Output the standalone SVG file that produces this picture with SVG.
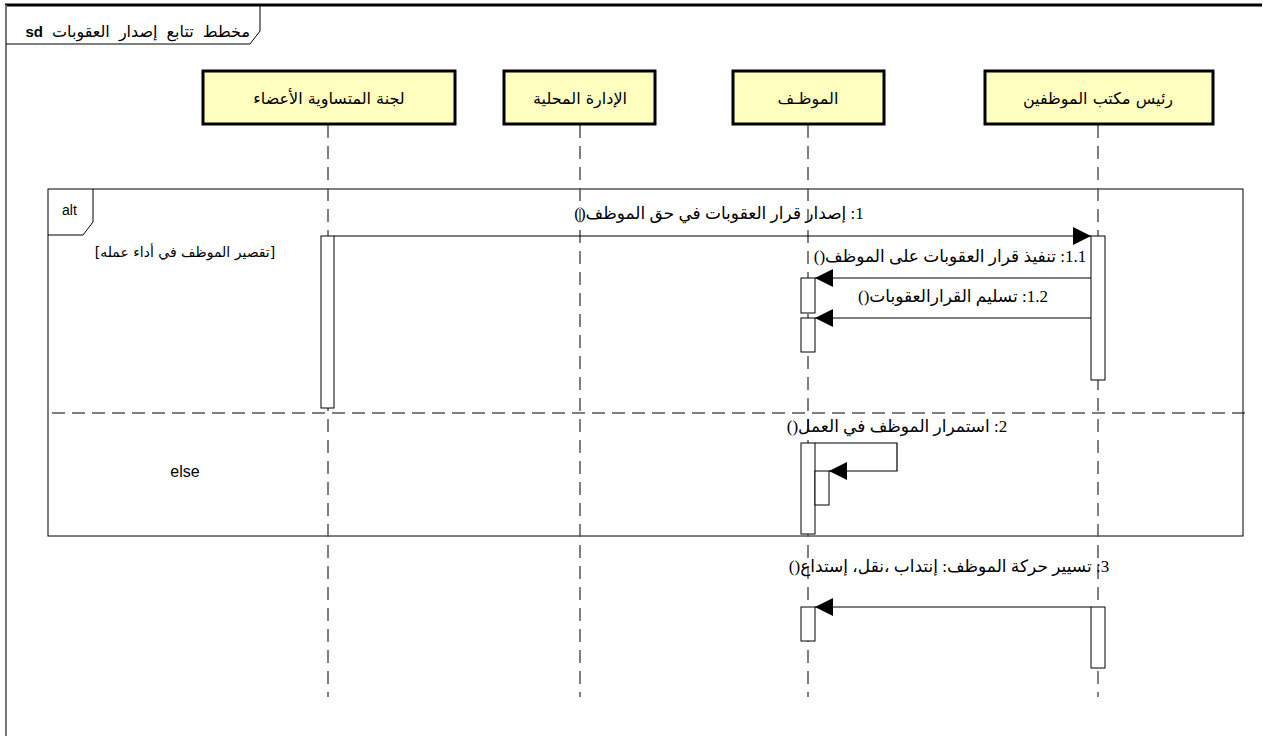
<svg xmlns="http://www.w3.org/2000/svg" width="1263" height="736" viewBox="0 0 1263 736">
<style>
.head{fill:#ffffc0;stroke:#000;stroke-width:3}
.hl{font-family:"DejaVu Sans","Noto Sans",sans-serif;font-size:16px;fill:#000;text-anchor:middle}
.life{stroke:#555;stroke-width:1.5;stroke-dasharray:13 8;fill:none}
.act{fill:#fff;stroke:#000;stroke-width:1}
.msg{stroke:#000;stroke-width:1.2;fill:none}
.ml{font-family:"Liberation Serif","DejaVu Sans",serif;font-size:17px;fill:#000;text-anchor:middle}
.frame{fill:none;stroke:#000;stroke-width:1}
</style>
<defs>
<marker id="ah" markerUnits="userSpaceOnUse" markerWidth="20" markerHeight="18" refX="18" refY="9" orient="auto">
<path d="M0,0 L18,9 L0,18 Z" fill="#000"/>
</marker>
</defs>
<rect width="1263" height="736" fill="#fff"/>
<g id="sd-frame">
<line x1="5" y1="5" x2="1262" y2="5" stroke="#000" stroke-width="3"/>
<line x1="6" y1="5" x2="6" y2="736" stroke="#777" stroke-width="2"/>
<path d="M6,44 L250,44 L260,31 L260,5" fill="none" stroke="#000" stroke-width="1"/>
<text x="250" y="37" direction="rtl" font-family="DejaVu Sans,sans-serif" font-size="16" word-spacing="4" text-anchor="start">مخطط تتابع إصدار العقوبات <tspan font-family="Liberation Sans,Arial,sans-serif" font-weight="bold" font-size="15">sd</tspan></text>
</g>
<g id="alt-frame">
<rect class="frame" x="48" y="189" width="1195" height="347"/>
<path class="frame" d="M48,235 L83,235 L93,222 L93,189"/>
<text x="62" y="215" font-family="Liberation Sans,Arial,sans-serif" font-size="14">alt</text>
<text x="185" y="257" direction="rtl" class="hl" style="font-size:14px">[تقصير الموظف في أداء عمله]</text>
<line x1="52" y1="413" x2="1250" y2="413" stroke="#000" stroke-width="1.2" stroke-dasharray="13 7"/>
<text x="185" y="477" font-family="Liberation Sans,Arial,sans-serif" font-size="16" text-anchor="middle">else</text>
</g>
<g id="lifelines">
<line class="life" x1="328" y1="125" x2="328" y2="697"/>
<line class="life" x1="580" y1="125" x2="580" y2="697"/>
<line class="life" x1="808" y1="125" x2="808" y2="697"/>
<line class="life" x1="1098" y1="125" x2="1098" y2="697"/>
</g>
<g id="node-lajna">
<rect class="head" x="203" y="71" width="252" height="53"/>
<text class="hl" x="329" y="104" direction="rtl">لجنة المتساوية الأعضاء</text>
</g>
<g id="node-idara">
<rect class="head" x="504" y="71" width="151" height="53"/>
<text class="hl" x="580" y="104" direction="rtl">الإدارة المحلية</text>
</g>
<g id="node-mowazzaf">
<rect class="head" x="733" y="71" width="151" height="53"/>
<text class="hl" x="808" y="104" direction="rtl">الموظـف</text>
</g>
<g id="node-rais">
<rect class="head" x="985" y="71" width="228" height="53"/>
<text class="hl" x="1098" y="104" direction="rtl">رئيس مكتب  الموظفين</text>
</g>
<g id="activations">
<rect class="act" x="321" y="236" width="13" height="172"/>
<rect class="act" x="1091" y="236" width="14" height="144"/>
<rect class="act" x="801" y="278" width="14" height="35"/>
<rect class="act" x="801" y="318" width="14" height="34"/>
<rect class="act" x="801" y="443" width="14" height="91"/>
<rect class="act" x="815" y="471" width="14" height="34"/>
<rect class="act" x="801" y="607" width="14" height="34"/>
<rect class="act" x="1091" y="607" width="14" height="61"/>
</g>
<g id="connectors">
<line class="msg" x1="334" y1="236" x2="1091" y2="236" marker-end="url(#ah)"/>
<line class="msg" x1="1091" y1="278" x2="815" y2="278" marker-end="url(#ah)"/>
<line class="msg" x1="1091" y1="318" x2="815" y2="318" marker-end="url(#ah)"/>
<polyline class="msg" points="815,443 897,443 897,471 829,471" marker-end="url(#ah)"/>
<line class="msg" x1="1091" y1="607" x2="815" y2="607" marker-end="url(#ah)"/>
</g>
<g id="labels">
<text class="ml" x="719" y="219" direction="rtl">1: إصدار قرار العقوبات في حق الموظف()</text>
<text class="ml" x="950" y="262" direction="rtl">1.1: تنفيذ قرار العقوبات على الموظف()</text>
<text class="ml" x="953" y="302" direction="rtl">1.2: تسليم القرارالعقوبات()</text>
<text class="ml" x="897" y="432" direction="rtl">2: استمرار الموظف في العمل()</text>
<text class="ml" x="949" y="572" direction="rtl">3: تسيير حركة الموظف: إنتداب ،نقل، إستداع()</text>
</g>
</svg>
